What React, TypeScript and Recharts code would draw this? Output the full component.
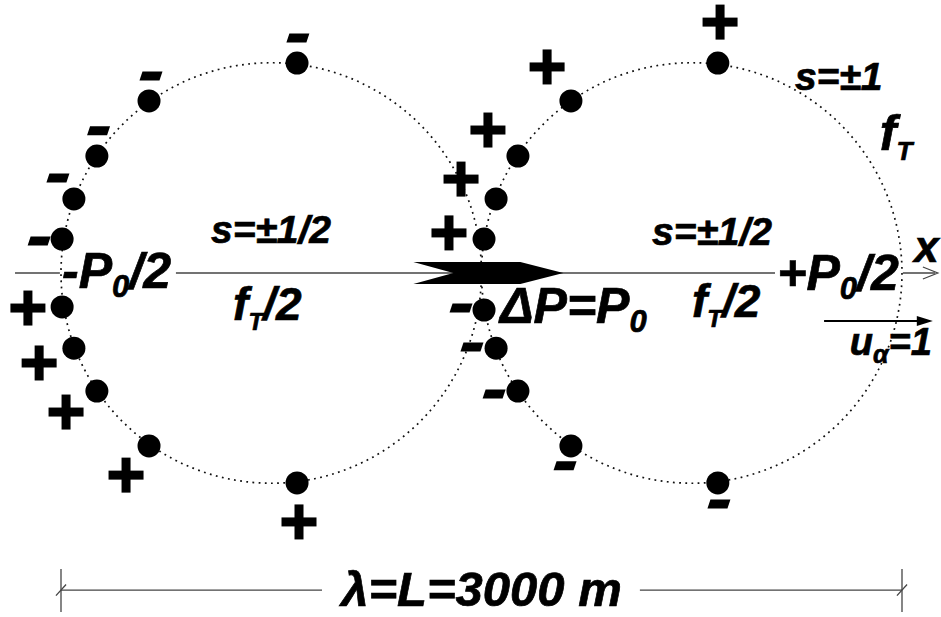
import React from "react";
import {
  ScatterChart,
  Scatter,
  XAxis,
  YAxis,
  ReferenceDot,
  ReferenceLine,
} from "recharts";

// everything is in metres: x runs 0..3000 m along the wave, y = 0 on the x axis
const WAVELENGTH = 3000;
const RADIUS = 750;

const circleCenters = [
  { x: 750, y: 0 },
  { x: 2250, y: 0 },
];

// charged points on the left loop (s=±1/2)
const leftDots = [
  { x: 842, y: 749 },
  { x: 314, y: 614 },
  { x: 128, y: 417 },
  { x: 46, y: 264 },
  { x: 4, y: 121 },
  { x: 4, y: -121 },
  { x: 46, y: -268 },
  { x: 128, y: -421 },
  { x: 314, y: -617 },
  { x: 842, y: -749 },
];

// charged points on the right loop
const rightDots = [
  { x: 2343, y: 749 },
  { x: 1819, y: 614 },
  { x: 1630, y: 417 },
  { x: 1552, y: 264 },
  { x: 1509, y: 121 },
  { x: 1509, y: -132 },
  { x: 1552, y: -268 },
  { x: 1630, y: -421 },
  { x: 1819, y: -617 },
  { x: 2343, y: -749 },
];

const minusSigns = [
  { x: 845, y: 838 },
  { x: 321, y: 703 },
  { x: 134, y: 507 },
  { x: -11, y: 339 },
  { x: -78, y: 114 },
  { x: 1427, y: -125 },
  { x: 1466, y: -264 },
  { x: 1545, y: -432 },
  { x: 1798, y: -688 },
  { x: 2347, y: -824 },
];

const plusSigns = [
  { x: -118, y: -125 },
  { x: -78, y: -321 },
  { x: 18, y: -496 },
  { x: 232, y: -721 },
  { x: 849, y: -888 },
  { x: 2351, y: 895 },
  { x: 1734, y: 735 },
  { x: 1523, y: 510 },
  { x: 1427, y: 335 },
  { x: 1384, y: 143 },
];

// "_" marks a subscript part
const labels = [
  { x: 535, y: 107, size: 39, parts: ["s=±1/2"] },
  { x: 614, y: -168, size: 46, sub: 24, shift: 10, parts: ["f", "_T", "/2"] },
  { x: 4, y: -54, size: 50, sub: 31, shift: 9, parts: ["-P", "_0", "/2"] },
  { x: 1566, y: -178, size: 50, sub: 31, shift: 9, parts: ["ΔP=P", "_0"] },
  { x: 2108, y: 100, size: 39, parts: ["s=±1/2"] },
  { x: 2251, y: -157, size: 46, sub: 24, shift: 10, parts: ["f", "_T", "/2"] },
  { x: 2555, y: -61, size: 50, sub: 31, shift: 9, parts: ["+P", "_0", "/2"] },
  { x: 3044, y: 39, size: 44, parts: ["x"] },
  { x: 2814, y: -292, size: 38, sub: 25, shift: 8, parts: ["u", "_α", "=1"] },
  { x: 2618, y: 653, size: 39, parts: ["s=±1"] },
  { x: 2921, y: 439, size: 50, sub: 26, shift: 10, parts: ["f", "_T"] },
  { x: 1500, y: -1188, size: 49, anchor: "middle", parts: ["λ=L=3000 m"] },
];

// ΔP arrow tip, u_α arrow, x axis arrow tip
const bigArrowTip = [{ x: 1792, y: 0 }];
const smallArrow = { from: 2722, to: 3110, y: -171 };
const axisTip = [{ x: 3128, y: 0 }];
const axisPieces = [
  [-164, -4],
  [410, 2547],
  [3003, 3118],
];
const dimension = { y: -1131, top: -1056, bottom: -1209, gapFrom: 931, gapTo: 2065 };

const W = 941;
const H = 617;
const PX_PER_M = 841 / WAVELENGTH;
const ORIGIN_LEFT = 61;
const ORIGIN_TOP = 273;
const xDomain = [-ORIGIN_LEFT / PX_PER_M, (W - ORIGIN_LEFT) / PX_PER_M];
const yDomain = [-(H - ORIGIN_TOP) / PX_PER_M, ORIGIN_TOP / PX_PER_M];

const FONT = "'Liberation Sans', Arial, Helvetica, sans-serif";
const LINE = "#444";

const DotShape = (props: any) => <circle cx={props.cx} cy={props.cy} r={11.5} fill="#000" />;

const PlusShape = (props: any) => {
  const { cx, cy } = props;
  return (
    <g fill="#000">
      <rect x={cx - 17.5} y={cy - 4.5} width={35} height={9} />
      <rect x={cx - 4.5} y={cy - 17.5} width={9} height={35} />
    </g>
  );
};

const MinusShape = (props: any) => {
  const { cx, cy } = props;
  const pts = [
    [cx - 11.5, cy + 4.5],
    [cx - 8.5, cy - 4.5],
    [cx + 11.5, cy - 4.5],
    [cx + 8.5, cy + 4.5],
  ];
  return <polygon points={pts.map((p) => p.join(",")).join(" ")} fill="#000" />;
};

const BigArrowShape = (props: any) => {
  const { cx, cy } = props;
  const pts = [
    [cx, cy],
    [cx - 43, cy - 11],
    [cx - 150, cy - 11],
    [cx - 110, cy],
    [cx - 150, cy + 11],
    [cx - 43, cy + 11],
  ];
  return <polygon points={pts.map((p) => p.join(",")).join(" ")} fill="#000" />;
};

const SmallHeadShape = (props: any) => {
  const { cx, cy } = props;
  return <polygon points={`${cx},${cy} ${cx - 16},${cy - 5} ${cx - 16},${cy + 5}`} fill="#000" />;
};

const OpenHeadShape = (props: any) => {
  const { cx, cy } = props;
  return (
    <polyline
      points={`${cx - 15},${cy - 6} ${cx},${cy} ${cx - 15},${cy + 6}`}
      fill="none"
      stroke={LINE}
      strokeWidth={1.2}
    />
  );
};

const LabelShape = (props: any) => {
  const { cx, cy, payload } = props;
  const { size, sub = size, shift = 0, parts, anchor = "start" } = payload;
  let wasSub = false;
  return (
    <text
      x={cx}
      y={cy}
      fontSize={size}
      fontFamily={FONT}
      fontWeight="bold"
      fontStyle="italic"
      textAnchor={anchor}
      fill="#000"
      stroke="#000"
      strokeWidth={0.7}
    >
      {parts.map((p: string, i: number) => {
        const isSub = p.startsWith("_");
        const dy = isSub ? shift : wasSub ? -shift : 0;
        wasSub = isSub;
        return (
          <tspan key={i} dy={dy} fontSize={isSub ? sub : size}>
            {isSub ? p.slice(1) : p}
          </tspan>
        );
      })}
    </text>
  );
};

export default function App() {
  return (
    <div style={{ position: "absolute", left: 0, top: 0, width: W, height: H, background: "#fff" }}>
      <ScatterChart width={W} height={H} margin={{ top: 0, right: 0, bottom: 0, left: 0 }}>
        <XAxis type="number" dataKey="x" domain={xDomain} allowDataOverflow hide />
        <YAxis type="number" dataKey="y" domain={yDomain} allowDataOverflow hide />

        {circleCenters.map((c, i) => (
          <ReferenceDot
            key={`loop-${i}`}
            x={c.x}
            y={c.y}
            r={RADIUS * PX_PER_M}
            fill="none"
            stroke="#111"
            strokeWidth={1.7}
            strokeDasharray="1.8 4.4"
            ifOverflow="visible"
          />
        ))}

        {axisPieces.map(([a, b], i) => (
          <ReferenceLine
            key={`axis-${i}`}
            segment={[{ x: a, y: 0 }, { x: b, y: 0 }]}
            stroke={LINE}
            strokeWidth={1.3}
            ifOverflow="visible"
          />
        ))}

        <ReferenceLine
          segment={[{ x: smallArrow.from, y: smallArrow.y }, { x: smallArrow.to - 40, y: smallArrow.y }]}
          stroke="#000"
          strokeWidth={2}
          ifOverflow="visible"
        />

        <ReferenceLine
          segment={[{ x: 0, y: dimension.y }, { x: dimension.gapFrom, y: dimension.y }]}
          stroke={LINE}
          strokeWidth={1.3}
          ifOverflow="visible"
        />
        <ReferenceLine
          segment={[{ x: dimension.gapTo, y: dimension.y }, { x: WAVELENGTH, y: dimension.y }]}
          stroke={LINE}
          strokeWidth={1.3}
          ifOverflow="visible"
        />
        {[0, WAVELENGTH].map((x) => (
          <ReferenceLine
            key={`tick-${x}`}
            segment={[{ x, y: dimension.top }, { x, y: dimension.bottom }]}
            stroke={LINE}
            strokeWidth={1.3}
            ifOverflow="visible"
          />
        ))}
        {[0, WAVELENGTH].map((x) => (
          <ReferenceLine
            key={`slash-${x}`}
            segment={[{ x: x - 18, y: dimension.y - 20 }, { x: x + 18, y: dimension.y + 20 }]}
            stroke={LINE}
            strokeWidth={1.3}
            ifOverflow="visible"
          />
        ))}

        <Scatter data={bigArrowTip} shape={BigArrowShape} isAnimationActive={false} />
        <Scatter data={[{ x: smallArrow.to, y: smallArrow.y }]} shape={SmallHeadShape} isAnimationActive={false} />
        <Scatter data={axisTip} shape={OpenHeadShape} isAnimationActive={false} />
        <Scatter data={leftDots} shape={DotShape} isAnimationActive={false} />
        <Scatter data={rightDots} shape={DotShape} isAnimationActive={false} />
        <Scatter data={minusSigns} shape={MinusShape} isAnimationActive={false} />
        <Scatter data={plusSigns} shape={PlusShape} isAnimationActive={false} />
        <Scatter data={labels} shape={LabelShape} isAnimationActive={false} />
      </ScatterChart>
    </div>
  );
}
